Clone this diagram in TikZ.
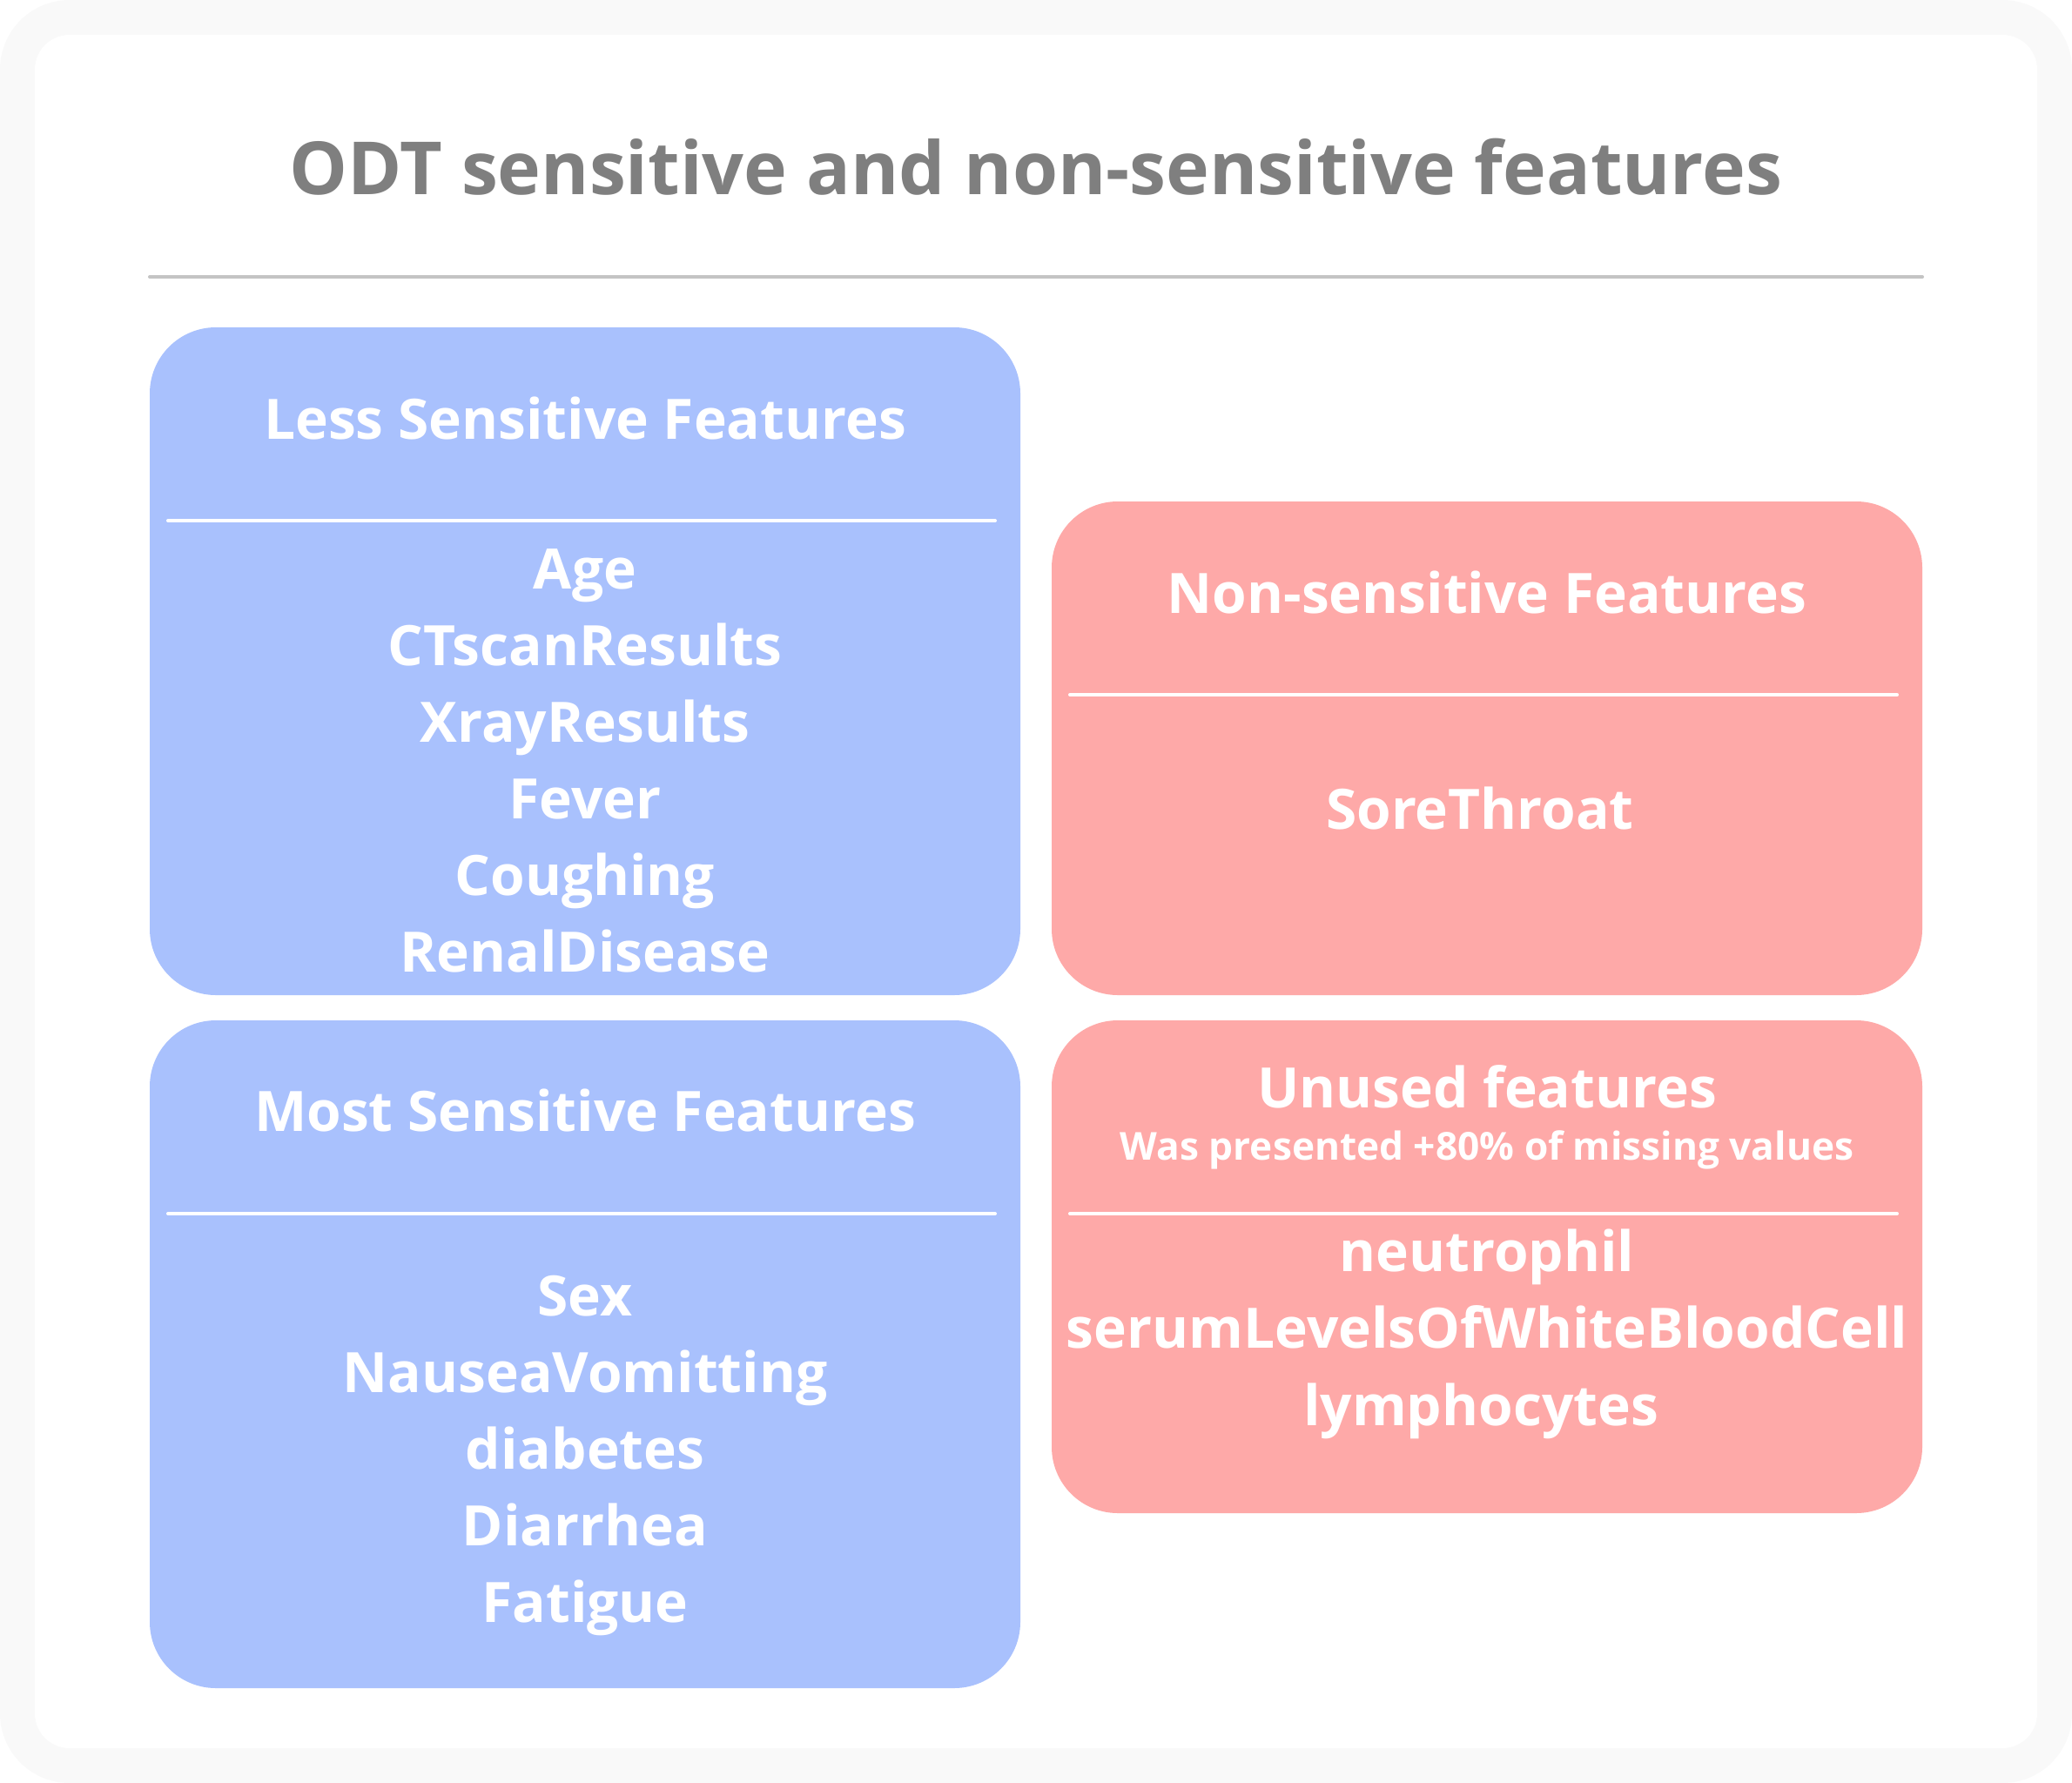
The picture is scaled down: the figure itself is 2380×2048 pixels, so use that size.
\documentclass[tikz,border=0pt]{standalone}
\usepackage{fontspec}
\setmainfont{Open Sans}
\definecolor{bluebg}{HTML}{A9C1FD}
\definecolor{redbg}{HTML}{FEA9A8}
\definecolor{titlegray}{HTML}{7F7F7F}
\definecolor{rulegray}{HTML}{C4C4C4}
\definecolor{framegray}{HTML}{F9F9F9}
\tikzset{
  panel/.style={inner sep=0pt, minimum width=1000pt, rounded corners=76pt},
  bluepanel/.style={panel, fill=bluebg},
  redpanel/.style={panel, fill=redbg},
  headtxt/.style={anchor=base, inner sep=0pt, text=white, font=\fontsize{64}{70}\selectfont\bfseries},
  itemtxt/.style={anchor=base, inner sep=0pt, text=white, font=\fontsize{64}{70}\selectfont\bfseries},
  subtxt/.style={anchor=base, inner sep=0pt, text=white, font=\fontsize{44.2}{48}\selectfont\bfseries},
  whiterule/.style={draw=white, line width=4pt, line cap=round},
}
\begin{document}
\begin{tikzpicture}[x=1pt,y=-1pt]
\useasboundingbox (0,0) rectangle (2380,2048);
\fill[white] (0,0) rectangle (2380,2048);
\fill[framegray, rounded corners=80pt] (0,0) rectangle (2380,2048);
\fill[white, rounded corners=40pt] (40,40) rectangle (2340,2008);
% title
\node[anchor=base, inner sep=0pt, text=titlegray, font=\fontsize{84.2}{92}\selectfont\bfseries] (title) at (1190,223) {ODT sensitive and non-sensitive features};
\coordinate (tl) at (172,318);
\coordinate (tr) at (2208,318);
\draw[rulegray, line width=4pt, line cap=round] (tl) -- (tr);
% panels
\node[bluepanel, minimum height=767pt] (less) at (672,759.5) {};
\node[bluepanel, minimum height=767pt] (most) at (672,1555.5) {};
\node[redpanel, minimum height=567pt] (non) at (1708,859.5) {};
\node[redpanel, minimum height=566pt] (unused) at (1708,1455) {};
% less sensitive
\node[headtxt] (lessh) at (672,504) {Less Sensitive Features};
\coordinate (l1a) at (193,598); \coordinate (l1b) at (1143,598);
\draw[whiterule] (l1a) -- (l1b);
\node[itemtxt] (age) at (672,676) {Age};
\node[itemtxt] (ct) at (672,764) {CTscanResults};
\node[itemtxt] (xray) at (672,852) {XrayResults};
\node[itemtxt] (fever) at (672,940) {Fever};
\node[itemtxt] (cough) at (672,1028) {Coughing};
\node[itemtxt] (renal) at (672,1116) {RenalDisease};
% most sensitive
\node[headtxt] (mosth) at (672,1299) {Most Sensitive Features};
\coordinate (l2a) at (193,1394); \coordinate (l2b) at (1143,1394);
\draw[whiterule] (l2a) -- (l2b);
\node[itemtxt] (sex) at (672,1511) {Sex};
\node[itemtxt] (nausea) at (672,1599) {NauseaVomitting};
\node[itemtxt] (diab) at (672,1687) {diabetes};
\node[itemtxt] (diarr) at (672,1775) {Diarrhea};
\node[itemtxt] (fatig) at (672,1863) {Fatigue};
% non-sensitive
\node[headtxt] (nonh) at (1708,704) {Non-sensitive Features};
\coordinate (l3a) at (1229,798); \coordinate (l3b) at (2179,798);
\draw[whiterule] (l3a) -- (l3b);
\node[itemtxt] (sore) at (1700,952) {SoreThroat};
% unused
\node[headtxt] (unh) at (1708,1272) {Unused features};
\node[subtxt] (unsub) at (1708,1332) {Was presented +80\% of missing values};
\coordinate (l4a) at (1229,1394); \coordinate (l4b) at (2179,1394);
\draw[whiterule] (l4a) -- (l4b);
\node[itemtxt] (neut) at (1708,1460) {neutrophil};
\node[itemtxt] (serum) at (1708,1548) {serumLevelsOfWhiteBloodCell};
\node[itemtxt] (lymph) at (1701,1637) {lymphocytes};
\end{tikzpicture}
\end{document}
